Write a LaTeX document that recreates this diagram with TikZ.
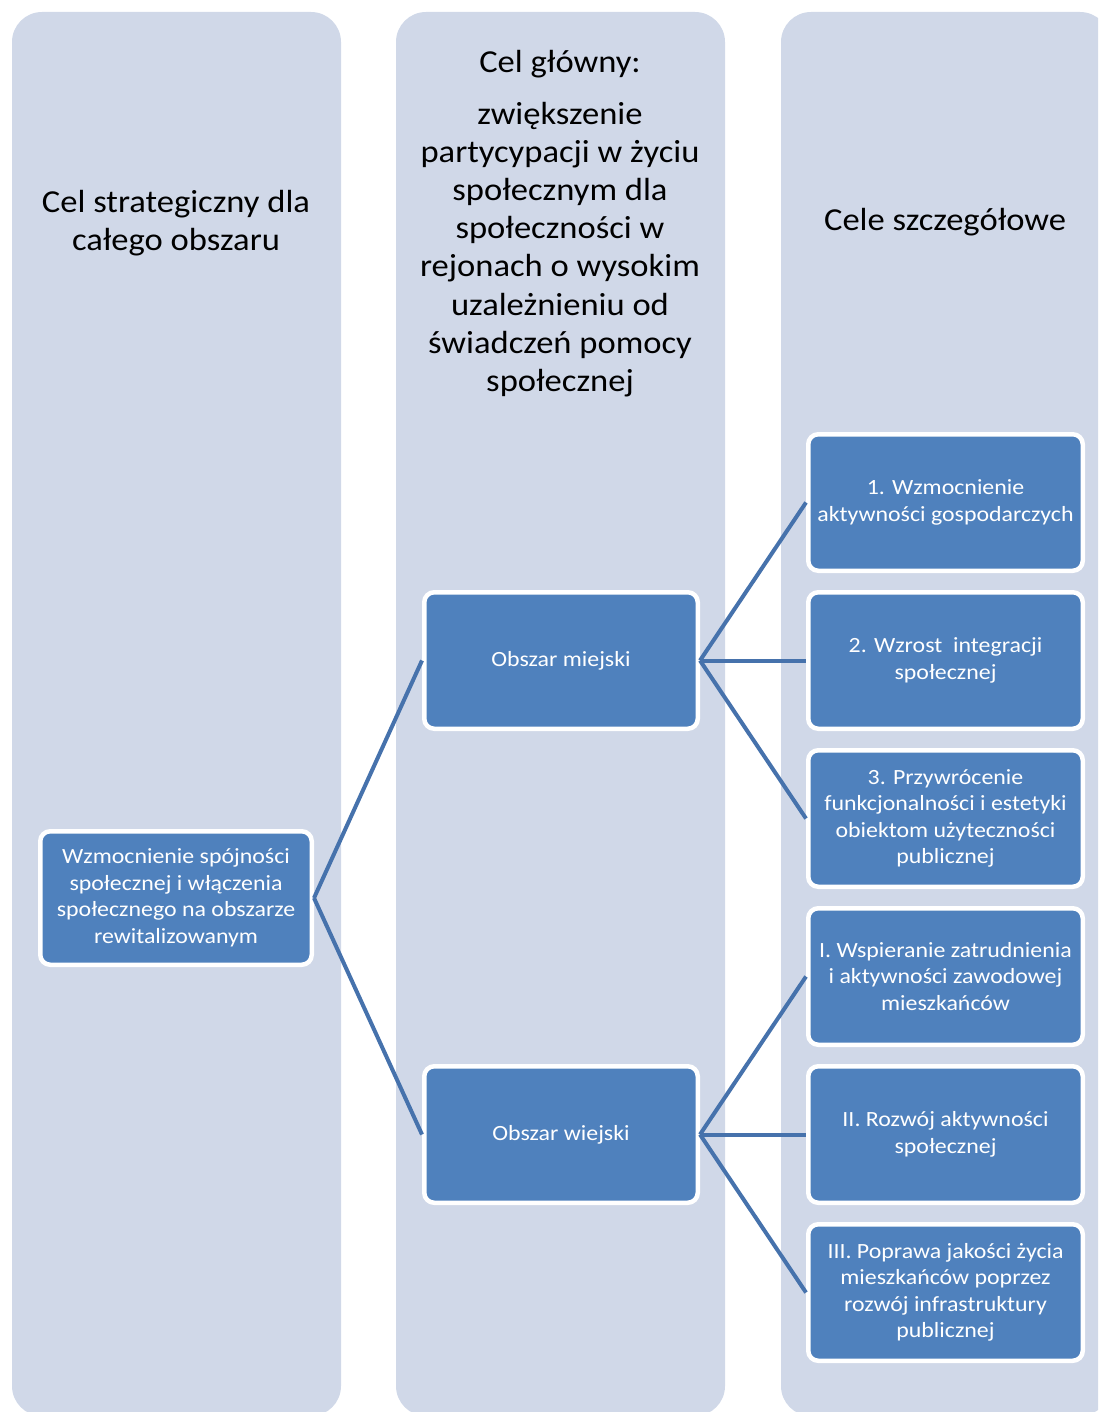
\documentclass[tikz,border=0pt]{standalone}
\usepackage{fontspec}
\setmainfont{Carlito}
\newfontfamily\hdrfont[FakeStretch=1.08]{Carlito}
\newfontfamily\boxfont[FakeStretch=1.10]{Carlito}
\definecolor{colbg}{HTML}{D0D8E8}
\definecolor{boxblue}{HTML}{4F81BD}
\definecolor{linkblue}{HTML}{4672AC}
\begin{document}
\begin{tikzpicture}[x=1pt,y=-1pt,
  col/.style={fill=colbg, rounded corners=30pt},
  box/.style={draw=white, line width=4.5pt, fill=boxblue, rounded corners=10pt,
    minimum width=274.5pt, minimum height=136.5pt, text=white,
    font=\boxfont\fontsize{21.7}{26.5}\selectfont, align=center, inner sep=0pt},
  hdr/.style={font=\hdrfont\fontsize{32}{38.1}\selectfont, align=center, inner sep=0pt},
  link/.style={draw=linkblue, line width=4pt}]
\useasboundingbox (0,0) rectangle (1098,1412);
\begin{scope}
\clip (0,0) rectangle (1098,1412);
\path[col] (12,12) rectangle (341,1416);
\path[col] (396,12) rectangle (725,1416);
\path[col] (781,12) rectangle (1110,1416);
\end{scope}
% headers
\node[hdr] (h1) at (176,223) {Cel strategiczny dla\\całego obszaru};
\node[hdr] (h2) at (560,223.5) {Cel główny:\\[14pt]zwiększenie\\partycypacji w życiu\\społecznym dla\\społeczności w\\rejonach o wysokim\\uzależnieniu od\\świadczeń pomocy\\społecznej};
\node[hdr] (h3) at (945,222) {Cele szczegółowe};
% boxes
\node[box, minimum width=271.5pt, minimum height=133.5pt] (lb) at (176,898) {Wzmocnienie spójności\\społecznej i włączenia\\społecznego na obszarze\\rewitalizowanym};
\node[box, minimum width=273.5pt] (om) at (561,660.5) {Obszar miejski};
\node[box, minimum width=273.5pt] (ow) at (561,1134.5) {Obszar wiejski};
\node[box] (r1) at (945.5,502.5) {1. Wzmocnienie\\aktywności gospodarczych};
\node[box] (r2) at (945.5,660.5) {2. Wzrost\ \ integracji\\społecznej};
\node[box] (r3) at (945.5,818.5) {3. Przywrócenie\\funkcjonalności i estetyki\\obiektom użyteczności\\publicznej};
\node[box] (r4) at (945.5,976.5) {I. Wspieranie zatrudnienia\\i aktywności zawodowej\\mieszkańców};
\node[box] (r5) at (945.5,1134.5) {II. Rozwój aktywności\\społecznej};
\node[box] (r6) at (945.5,1292.5) {III. Poprawa jakości życia\\mieszkańców poprzez\\rozwój infrastruktury\\publicznej};
% connectors
\draw[link] (lb.east) -- (om.west);
\draw[link] (lb.east) -- (ow.west);
\draw[link] (om.east) -- (r1.west);
\draw[link] (om.east) -- (r2.west);
\draw[link] (om.east) -- (r3.west);
\draw[link] (ow.east) -- (r4.west);
\draw[link] (ow.east) -- (r5.west);
\draw[link] (ow.east) -- (r6.west);
\end{tikzpicture}
\end{document}
